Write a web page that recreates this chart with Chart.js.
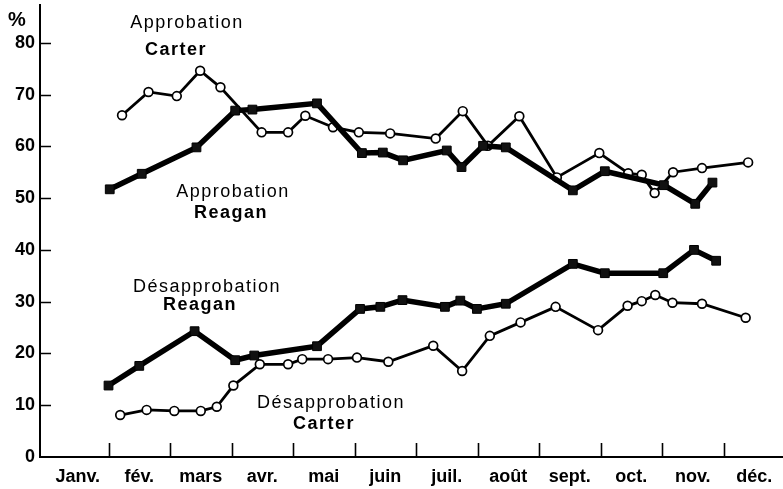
<!DOCTYPE html>
<html>
<head>
<meta charset="utf-8">
<script src="https://cdn.jsdelivr.net/npm/chart.js@4"></script>
<style>
  html, body { margin: 0; padding: 0; background: #fff; }
  #wrap { width: 783px; height: 489px; }
</style>
</head>
<body>
<div id="wrap"><canvas id="sondage" width="783" height="489"></canvas></div>
<script>
// month labels and value ticks
var months = ['Janv.', 'fév.', 'mars', 'avr.', 'mai', 'juin', 'juil.', 'août', 'sept.', 'oct.', 'nov.', 'déc.'];
var valueTicks = [0, 10, 20, 30, 40, 50, 60, 70, 80];

// x = time in months since 1 Jan (0 = start of Janv.), y = percent
var carterApprX = [1.22, 1.65, 2.11, 2.49, 2.82, 3.49, 3.92, 4.20, 4.65, 5.07, 5.58, 6.32, 6.76, 7.17, 7.68, 8.29, 8.98, 9.45, 9.67, 9.88, 10.18, 10.65, 11.40];
var carterApprY = [66.0, 70.5, 69.7, 74.6, 71.4, 62.7, 62.7, 65.9, 63.7, 62.7, 62.5, 61.5, 66.8, 60.1, 65.8, 54.0, 58.7, 54.8, 54.5, 51.0, 55.0, 55.8, 56.9];

var reaganApprX = [1.02, 1.54, 2.43, 3.06, 3.34, 4.39, 5.12, 5.46, 5.79, 6.50, 6.74, 7.09, 7.46, 8.55, 9.07, 10.03, 10.54, 10.82];
var reaganApprY = [51.7, 54.7, 59.8, 66.9, 67.1, 68.3, 58.7, 58.8, 57.3, 59.2, 56.0, 60.1, 59.8, 51.5, 55.2, 52.5, 48.9, 53.0];

var reaganDesX = [1.00, 1.50, 2.40, 3.06, 3.37, 4.39, 5.09, 5.42, 5.78, 6.47, 6.72, 6.99, 7.46, 8.55, 9.07, 10.02, 10.52, 10.88];
var reaganDesY = [13.8, 17.6, 24.3, 18.7, 19.6, 21.4, 28.6, 29.0, 30.3, 29.0, 30.2, 28.6, 29.6, 37.3, 35.5, 35.5, 40.0, 37.9];

var carterDesX = [1.19, 1.62, 2.07, 2.50, 2.76, 3.03, 3.46, 3.92, 4.15, 4.57, 5.04, 5.55, 6.28, 6.75, 7.20, 7.70, 8.27, 8.96, 9.44, 9.67, 9.89, 10.17, 10.65, 11.36];
var carterDesY = [8.1, 9.1, 8.9, 8.9, 9.7, 13.8, 17.9, 17.9, 18.9, 18.9, 19.2, 18.4, 21.5, 16.6, 23.4, 26.0, 29.0, 24.5, 29.2, 30.1, 31.3, 29.8, 29.6, 26.9];

function pts(xs, ys) {
  var out = [];
  for (var i = 0; i < xs.length; i++) out.push({ x: xs[i], y: ys[i] });
  return out;
}

var boldFont = '"Liberation Sans", Arial, sans-serif';

// open circles, thin line
function carterSet(label, xs, ys) {
  return {
    label: label,
    data: pts(xs, ys),
    borderColor: '#000',
    borderWidth: 2.8,
    pointStyle: 'circle',
    pointRadius: 4.4,
    pointBorderWidth: 1.7,
    pointBackgroundColor: '#fff',
    pointBorderColor: '#000',
    tension: 0,
    order: 2
  };
}

// filled squares, thick line
function reaganSet(label, xs, ys) {
  return {
    label: label,
    data: pts(xs, ys),
    borderColor: '#000',
    borderWidth: 5.5,
    pointStyle: 'rect',
    pointRadius: 6.2,
    pointBorderWidth: 1,
    pointBackgroundColor: '#111',
    pointBorderColor: '#000',
    tension: 0,
    order: 1
  };
}

// inward tick marks, % sign and the series captions
var decor = {
  id: 'decor',
  afterDraw: function (chart) {
    var ctx = chart.ctx;
    var xs = chart.scales.x, ys = chart.scales.y;
    var area = chart.chartArea;
    ctx.save();
    ctx.strokeStyle = '#000';
    ctx.lineWidth = 1.6;
    ctx.beginPath();
    for (var v = 10; v <= 80; v += 10) {
      var py = Math.round(ys.getPixelForValue(v)) + 0.5;
      ctx.moveTo(area.left, py);
      ctx.lineTo(area.left + 11, py);
    }
    for (var m = 1; m <= 11; m++) {
      var px = Math.round(xs.getPixelForValue(m)) + 0.5;
      ctx.moveTo(px, area.bottom);
      ctx.lineTo(px, area.bottom - 14);
    }
    ctx.stroke();

    ctx.fillStyle = '#000';
    ctx.textBaseline = 'alphabetic';
    ctx.textAlign = 'left';
    ctx.font = 'bold 20px ' + boldFont;
    ctx.fillText('%', 8, 26);

    ctx.letterSpacing = '1.5px';
    ctx.textAlign = 'center';
    var notes = [
      ['Approbation', false, 187, 28],
      ['Carter', true, 176, 55],
      ['Approbation', false, 233, 197],
      ['Reagan', true, 231, 218],
      ['Désapprobation', false, 207, 292],
      ['Reagan', true, 200, 310],
      ['Désapprobation', false, 331, 408],
      ['Carter', true, 324, 429]
    ];
    notes.forEach(function (n) {
      ctx.font = (n[1] ? 'bold ' : '') + '18px ' + boldFont;
      ctx.fillText(n[0], n[2], n[3]);
    });
    ctx.restore();
  }
};

var chart = new Chart(document.getElementById('sondage'), {
  type: 'line',
  data: {
    datasets: [
      reaganSet('Approbation Reagan', reaganApprX, reaganApprY),
      reaganSet('Désapprobation Reagan', reaganDesX, reaganDesY),
      carterSet('Approbation Carter', carterApprX, carterApprY),
      carterSet('Désapprobation Carter', carterDesX, carterDesY)
    ]
  },
  options: {
    responsive: false,
    animation: false,
    layout: { autoPadding: false, padding: { top: 5, right: 0, left: 0, bottom: 0 } },
    plugins: {
      legend: { display: false },
      tooltip: { enabled: false }
    },
    scales: {
      x: {
        type: 'linear',
        min: -0.114,
        max: 11.967,
        afterBuildTicks: function (axis) {
          axis.ticks = months.map(function (m, i) { return { value: i + 0.5 }; });
        },
        afterFit: function (axis) {
          axis.height = 32;
          axis.paddingLeft = 0;
          axis.paddingRight = 0;
        },
        grid: { display: false, drawTicks: false },
        border: { display: true, color: '#000', width: 2 },
        ticks: {
          autoSkip: false,
          maxRotation: 0,
          padding: 9,
          color: '#000',
          font: { family: boldFont, size: 18, weight: 'bold' },
          callback: function (v) { return months[Math.floor(v)]; }
        }
      },
      y: {
        type: 'linear',
        min: 0,
        max: 87.3,
        afterBuildTicks: function (axis) {
          axis.ticks = valueTicks.map(function (v) { return { value: v }; });
        },
        afterFit: function (axis) {
          axis.width = 40;
          axis.paddingTop = 0;
          axis.paddingBottom = 0;
        },
        grid: { display: false, drawTicks: false },
        border: { display: true, color: '#000', width: 2 },
        ticks: {
          padding: 5,
          color: '#000',
          font: { family: boldFont, size: 18, weight: 'bold' }
        }
      }
    }
  },
  plugins: [decor]
});
</script>
</body>
</html>
